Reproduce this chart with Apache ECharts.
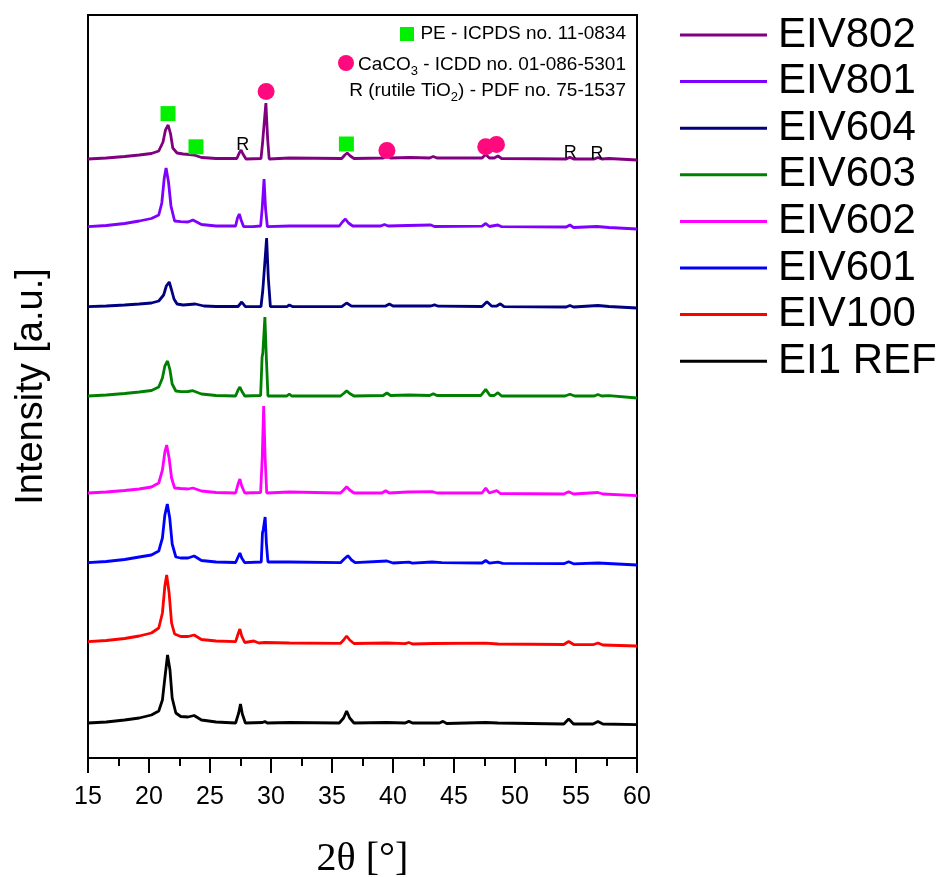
<!DOCTYPE html>
<html><head><meta charset="utf-8">
<script src="https://cdn.jsdelivr.net/npm/echarts@6/dist/echarts.min.js"></script>
<style>html,body{margin:0;padding:0;background:#fff}#c{width:942px;height:877px}</style>
</head><body><div id="c"></div>
<script>
// ---- data (2θ in degrees, intensity in a.u., curves already vertically offset as in the figure) ----
const xTickLabels = [15,20,25,30,35,40,45,50,55,60];
const seriesNames = ['EIV802','EIV801','EIV604','EIV603','EIV602','EIV601','EIV100','EI1 REF'];
const seriesColors = ['#800080','#8000ff','#000080','#008000','#ff00ff','#0000ff','#ff0000','#000000'];

const ei1Ref = [[15,35],[16.5,36],[18,38],[19.2,40],[20.2,43],[20.8,47],[21.1,58],[21.3,80],[21.52,103],[21.72,88],[21.9,60],[22.2,45],[22.6,41.5],[23.2,41],[23.7,42.5],[24.3,38],[25.5,36],[27.1,35],[27.35,45],[27.5,54],[27.65,44],[27.9,35],[29.3,35.5],[29.5,36.5],[29.7,35],[31.5,35.5],[35.6,35],[35.95,40],[36.2,47],[36.45,40],[36.8,35],[39.5,35.5],[41.0,35],[41.3,36.6],[41.6,35],[43.8,35],[44.1,36.6],[44.4,34.5],[47.6,35.5],[48.6,35],[54.0,34],[54.4,39],[54.8,34],[56.4,34],[56.8,36.5],[57.2,34],[60,33.3]];
const eiv100 = [[15,116.3],[16.5,117.5],[18,119.5],[19.2,122],[20.2,125],[20.8,130],[21.1,145],[21.3,172],[21.45,183],[21.65,165],[21.85,135],[22.1,124],[22.6,121.5],[23.2,121.5],[23.7,123],[24.3,118.5],[25.5,117],[27.1,116.3],[27.3,124],[27.45,129],[27.6,122],[27.85,115.5],[28.6,117],[29.0,115],[29.5,115.5],[31.5,115],[35.7,114.7],[35.95,118],[36.2,122],[36.45,118],[36.8,114.5],[39.5,115],[41.0,114.3],[41.3,115.5],[41.6,114],[43.3,114.5],[47.6,114.8],[48.6,114],[54.0,113.5],[54.4,116.5],[54.8,113.5],[56.4,113.3],[56.8,115],[57.2,113],[60,112]];
const eiv601 = [[15,195.3],[16.5,196.5],[18,198.5],[19.2,201],[20.2,203],[20.8,207],[21.1,220],[21.3,243],[21.5,254],[21.7,240],[21.9,214],[22.2,201],[22.6,200],[23.2,200],[23.7,202],[24.3,197.5],[25.5,196],[27.1,195.5],[27.3,201],[27.45,205],[27.6,200],[27.85,195.3],[29.2,196],[29.3,225],[29.36,228],[29.52,241],[29.62,215],[29.75,196],[31.5,196],[35.7,195.3],[36.0,199],[36.3,202.3],[36.6,198],[36.9,195.3],[39.5,197],[40.0,195],[41.3,195.8],[41.6,194.8],[43.2,196],[44.0,195.3],[47.3,195],[47.6,197.5],[47.9,194.8],[48.6,195.8],[49,194.6],[54.0,194.3],[54.4,196.2],[54.8,194.2],[56.8,195],[60,193]];
const eiv602 = [[15,265],[16.5,266],[18,267.5],[19.2,269],[20.2,271],[20.8,275],[21.1,288],[21.3,306],[21.45,313],[21.65,300],[21.85,280],[22.1,270],[22.6,269.5],[23.2,269],[23.6,270],[24.3,267],[25.5,265.5],[27.1,265],[27.3,274],[27.45,279],[27.6,272],[27.85,265],[29.15,265.5],[29.28,300],[29.4,352],[29.52,300],[29.65,265],[31.5,266],[35.7,265],[35.95,268],[36.2,271.3],[36.45,268],[36.8,265],[39.1,265],[39.4,267.3],[39.7,265],[41.2,266],[43.2,266.3],[43.6,265],[47.3,265],[47.6,270],[47.9,265],[48.5,267.3],[48.8,264.5],[54.0,264],[54.4,266.3],[54.8,264],[56.8,265.5],[57.2,264],[60,262.3]];
const eiv603 = [[15,362],[16.5,363],[18,364.5],[19.2,366],[20.2,367.5],[20.8,371],[21.1,380],[21.3,392],[21.52,397],[21.72,388],[21.9,374],[22.2,367],[22.6,366.3],[23.2,366.5],[23.6,367.3],[24.3,364],[25.5,362.5],[27.1,362],[27.3,368],[27.45,371],[27.6,367],[27.85,362],[29.15,362.5],[29.27,401],[29.33,405],[29.5,441],[29.62,400],[29.75,362],[31.3,362],[31.5,364],[31.7,362],[35.7,362],[36.0,365],[36.2,367.3],[36.45,364.5],[36.8,362],[39.2,362.5],[39.5,365],[39.8,362.5],[41.3,363],[43.0,362.5],[43.3,364.3],[43.6,362.5],[47.2,362.5],[47.6,368.6],[47.95,362.5],[48.3,362.5],[48.6,365.3],[48.9,362],[54.1,362],[54.5,363.8],[54.9,362],[56.5,362],[56.8,363.5],[57.1,362],[57.7,362.3],[60,360]];
const eiv604 = [[15,451.3],[16.5,452],[18,453],[19.2,454],[20.2,455],[20.8,457],[21.2,463],[21.42,472],[21.66,476],[21.85,468],[22.05,459],[22.3,454],[22.8,453],[23.3,453.5],[23.8,454],[24.5,452],[25.5,451.5],[27.3,451.5],[27.6,456],[27.9,451.3],[29.18,451.5],[29.33,468],[29.4,470],[29.64,520],[29.78,480],[29.95,451.3],[31.3,451.3],[31.5,453],[31.8,451.3],[35.8,451.3],[36.2,455],[36.6,451.8],[39.4,452],[39.7,454],[40.0,452],[41.4,452],[43.1,452],[43.4,453.2],[43.7,451.8],[47.3,451.5],[47.7,456.2],[48.1,451.8],[48.5,452],[48.8,454.2],[49.1,451.3],[54.2,451],[54.5,452.5],[54.8,451],[56.8,452.5],[57.7,451.5],[60,450]];
const eiv801 = [[15,531.3],[16.5,532.5],[18,534.5],[19.2,537],[20.2,539.5],[20.8,543],[21.05,555],[21.25,580],[21.4,590],[21.6,576],[21.8,552],[22.1,537],[22.6,536.3],[23.2,536],[23.6,538],[24.3,533.5],[25.5,532],[27.1,532],[27.25,540],[27.4,544],[27.55,538],[27.75,531.5],[28.5,531.3],[29.15,532],[29.28,550],[29.43,579],[29.55,550],[29.7,531.3],[31.5,532],[35.6,532],[35.85,536],[36.1,539],[36.35,535],[36.7,532],[39.0,532],[39.3,533.5],[39.6,532],[41.2,532.5],[43.1,533],[43.4,531.5],[47.3,531.8],[47.6,534.5],[47.9,531.5],[48.6,533],[48.9,531.3],[54.2,531],[54.5,533],[54.8,530.5],[56.7,531.5],[57.7,530.5],[60,529]];
const eiv802 = [[15,599],[16.5,600],[18,601.5],[19.2,603],[20.2,604.5],[20.8,607],[21.15,616],[21.35,628],[21.57,633],[21.77,624],[21.95,610],[22.3,605],[22.8,604],[23.3,603.5],[23.7,603],[24.3,600.5],[25.5,599.5],[27.2,599.5],[27.4,605],[27.55,608],[27.7,604],[27.95,599],[29.18,599.5],[29.3,614],[29.38,616],[29.58,655],[29.72,620],[29.85,599],[31.5,600],[35.8,599.5],[36.05,603],[36.25,605],[36.5,602],[36.8,599.5],[39.2,600],[39.5,602],[39.8,600],[41.4,600.5],[43.0,600],[43.3,601.5],[43.6,600],[47.3,600],[47.6,603.5],[47.9,600],[48.3,600],[48.6,602],[48.9,599.5],[54.2,599],[54.5,600.8],[54.8,599],[56.5,599],[56.8,600.5],[57.1,599],[57.7,599.5],[60,598]];

// phase identification markers (2θ, intensity position of marker)
const peMarks = [[21.56,644.4],[23.85,611.2],[36.18,614]];
const caco3Marks = [[29.6,666.6],[39.5,607.6],[47.6,611.2],[48.48,613.4]];
const rutileMarks = [[27.69,613],[54.53,605],[56.72,604.4]];

const seriesData = [eiv802, eiv801, eiv604, eiv603, eiv602, eiv601, eiv100, ei1Ref];

const FONT = 'Liberation Sans';
const chart = echarts.init(document.getElementById('c'), null, {renderer: 'canvas'});

const lineSeries = seriesNames.map((n, i) => ({
  name: n, type: 'line', data: seriesData[i], symbol: 'none', smooth: false,
  lineStyle: {color: seriesColors[i], width: 2.8}, itemStyle: {color: seriesColors[i]},
  z: 2, silent: true
}));

const sub = {fontFamily: FONT, fontSize: 13, padding: [14,0,0,0], fill: '#000'};
const norm = {fontFamily: FONT, fontSize: 19, fill: '#000'};

chart.setOption({
  animation: false,
  backgroundColor: '#fff',
  grid: {left: 88, right: 305, top: 15, bottom: 119, show: true, borderColor: '#000', borderWidth: 2,
    backgroundColor: 'transparent', containLabel: false, outerBoundsMode: 'none'},
  xAxis: {
    type: 'value', min: 15, max: 60, interval: 5,
    name: '2θ [°]', nameLocation: 'middle', nameGap: 81,
    nameTextStyle: {fontFamily: 'Liberation Serif', fontSize: 40, color: '#000'},
    axisLine: {show: true, lineStyle: {color: '#000', width: 2}},
    axisTick: {show: true, inside: false, length: 15, lineStyle: {color: '#000', width: 2}},
    minorTick: {show: true, splitNumber: 2, length: 8, lineStyle: {color: '#000', width: 2}},
    axisLabel: {fontFamily: FONT, fontSize: 25, color: '#000', margin: 27,
      formatter: v => xTickLabels.includes(v) ? String(v) : ''},
    splitLine: {show: false}
  },
  yAxis: {
    type: 'value', min: 0, max: 743,
    name: 'Intensity [a.u.]', nameLocation: 'middle', nameGap: 37, nameRotate: 90,
    nameTextStyle: {fontFamily: FONT, fontSize: 38, color: '#000'},
    axisLine: {show: true, lineStyle: {color: '#000', width: 2}},
    axisTick: {show: false}, axisLabel: {show: false}, splitLine: {show: false}
  },
  legend: {
    data: seriesNames, orient: 'vertical', left: 675, top: 9, itemGap: 4.6,
    icon: 'rect', itemWidth: 87, itemHeight: 3,
    textStyle: {fontFamily: FONT, fontSize: 42, color: '#000', padding: [0,0,0,6]},
    selectedMode: false
  },
  graphic: [
    {type: 'rect', shape: {x: 400, y: 27, width: 14, height: 14}, style: {fill: '#00f000'}},
    {type: 'text', right: 942 - 626, top: 24, style: {text: 'PE - ICPDS no. 11-0834', font: '19px "Liberation Sans"', fill: '#000'}},
    {type: 'circle', shape: {cx: 346, cy: 63, r: 8}, style: {fill: '#ff0a7e'}},
    {type: 'text', right: 942 - 626, top: 55, style: {
      text: '{n|CaCO}{s|3}{n| - ICDD no. 01-086-5301}', rich: {n: norm, s: sub}
    }},
    {type: 'text', right: 942 - 626, top: 81, style: {
      text: '{n|R (rutile TiO}{s|2}{n|) - PDF no. 75-1537}', rich: {n: norm, s: sub}
    }}
  ],
  series: lineSeries.concat([
    {name: 'PE', type: 'scatter', data: peMarks, symbol: 'rect', symbolSize: 15, itemStyle: {color: '#00f000', opacity: 1}, z: 5, silent: true},
    {name: 'CaCO3', type: 'scatter', data: caco3Marks, symbol: 'circle', symbolSize: 17, itemStyle: {color: '#ff0a7e', opacity: 1}, z: 5, silent: true},
    {name: 'Rutile', type: 'scatter', data: rutileMarks, symbol: 'circle', symbolSize: 1, itemStyle: {color: '#fff', opacity: 0}, z: 5, silent: true,
      label: {show: true, position: 'inside', formatter: 'R', fontFamily: FONT, fontSize: 18, color: '#000000', opacity: 1,
        textBorderWidth: 0, textShadowBlur: 0}}
  ])
});
</script></body></html>
